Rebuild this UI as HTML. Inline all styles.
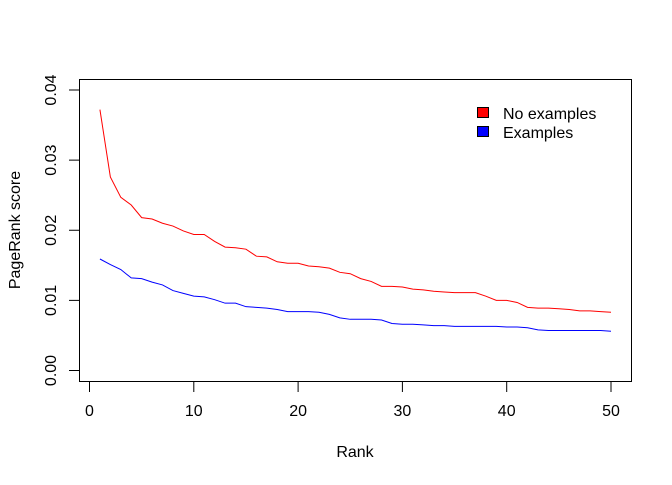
<!DOCTYPE html>
<html><head><meta charset="utf-8"><style>
body{margin:0;background:#fff}
svg text{font-family:"Liberation Sans",Arial,sans-serif;font-size:16px;fill:#000}
</style></head><body>
<svg id="c" width="672" height="480" xmlns="http://www.w3.org/2000/svg">
<rect x="79.5" y="79.5" width="552" height="302" fill="none" stroke="#000"/>
<text x="355" y="457" text-anchor="middle">Rank</text>
<text transform="translate(20,230) rotate(-90)" text-anchor="middle">PageRank score</text>
<g>
<rect x="477.5" y="107.5" width="11" height="10" fill="#ff0000" stroke="#000"/>
<text x="503" y="119">No examples</text>
<rect x="477.5" y="126.5" width="11" height="10" fill="#0000ff" stroke="#000"/>
<text x="503" y="138">Examples</text>
</g>
<g id="axes"></g>
<g id="series"></g>
</svg>
<script>
const xTicks=[0,10,20,30,40,50];
const yTicks=[0,0.01,0.02,0.03,0.04];
const yTickLabels=["0.00","0.01","0.02","0.03","0.04"];
const noExamples=[0.0372,0.0276,0.0247,0.0236,0.0218,0.0216,0.0210,0.0206,0.0199,0.0194,0.0194,0.0184,0.0176,0.0175,0.0173,0.0163,0.0162,0.0155,0.0153,0.0153,0.0149,0.0148,0.0146,0.0140,0.0138,0.0131,0.0127,0.0120,0.0120,0.0119,0.0116,0.0115,0.0113,0.0112,0.0111,0.0111,0.0111,0.0106,0.0100,0.0100,0.0097,0.0090,0.0089,0.0089,0.0088,0.0087,0.0085,0.0085,0.0084,0.0083];
const examples=[0.0159,0.0151,0.0144,0.0132,0.0131,0.0126,0.0122,0.0114,0.0110,0.0106,0.0105,0.0101,0.0096,0.0096,0.0091,0.0090,0.0089,0.0087,0.0084,0.0084,0.0084,0.0083,0.0080,0.0075,0.0073,0.0073,0.0073,0.0072,0.0067,0.0066,0.0066,0.0065,0.0064,0.0064,0.0063,0.0063,0.0063,0.0063,0.0063,0.0062,0.0062,0.0061,0.0058,0.0057,0.0057,0.0057,0.0057,0.0057,0.0057,0.0056];
const NS="http://www.w3.org/2000/svg";
const X=v=>89.5+v*(611-89.5)/50;
const Y=v=>370.5-v*(370.5-90)/0.04;
const ax=document.getElementById('axes');
function mk(t,a,p){const e=document.createElementNS(NS,t);for(const k in a)e.setAttribute(k,a[k]);p.appendChild(e);return e;}
mk('line',{x1:X(0),x2:X(50),y1:381.5,y2:381.5,stroke:'#000'},ax);
xTicks.forEach(v=>{
 const l=mk('line',{x1:X(v),x2:X(v),y1:381.5,y2:392,stroke:'#000'},ax);
 
 
 const t=mk('text',{x:X(v),y:416,'text-anchor':'middle'},ax);t.textContent=v;
 
 
});
mk('line',{x1:79.5,x2:79.5,y1:Y(0),y2:Y(0.04),stroke:'#000'},ax);
yTicks.forEach((v,i)=>{
 const l=mk('line',{x1:69,x2:79.5,y1:Y(v),y2:Y(v),stroke:'#000'},ax);
 
 
 const t=mk('text',{transform:`translate(56,${Y(v)}) rotate(-90)`,'text-anchor':'middle'},ax);t.textContent=yTickLabels[i];
 
 
});
const sg=document.getElementById('series');
[[noExamples,'#ff0000','line-no-examples'],[examples,'#0000ff','line-examples']].forEach(([d,c,n])=>{
 const p=mk('polyline',{points:d.map((v,i)=>X(i+1)+','+Y(v)).join(' '),fill:'none',stroke:c,'stroke-width':1},sg);
 
 
});
</script>
</body></html>
